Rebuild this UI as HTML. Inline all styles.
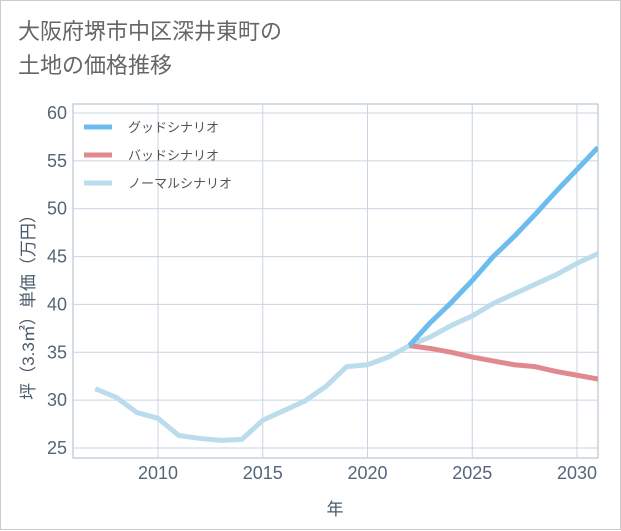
<!DOCTYPE html>
<html><head><meta charset="utf-8"><style>
body{margin:0;background:#fff;}
#wrap{position:relative;width:619px;height:528px;border:1px solid #ccc;background:#fff;font-family:"Liberation Sans","Noto Sans CJK JP",sans-serif;}
#title{position:absolute;left:17px;top:14px;font-size:22px;line-height:34px;color:#666;}
svg{position:absolute;left:0;top:0;}
</style></head><body>
<div id="wrap">
<div id="title">大阪府堺市中区深井東町の<br>土地の価格推移</div>
<svg id="chart" width="621" height="530"></svg>
</div>
<script>
const years=[2007,2008,2009,2010,2011,2012,2013,2014,2015,2016,2017,2018,2019,2020,2021,2022,2023,2024,2025,2026,2027,2028,2029,2030,2031];
const normalVals=[31.2,30.3,28.7,28.1,26.3,26.0,25.8,25.9,27.9,28.9,29.9,31.4,33.5,33.7,34.5,35.7,36.6,37.8,38.8,40.1,41.1,42.1,43.1,44.3,45.3];
const futureYears=[2022,2023,2024,2025,2026,2027,2028,2029,2030,2031];
const goodVals=[35.7,38.1,40.2,42.5,45.0,47.1,49.4,51.8,54.1,56.4];
const badVals=[35.7,35.4,35.0,34.5,34.1,33.7,33.5,33.0,32.6,32.2];
const yTicks=[25,30,35,40,45,50,55,60];
const xTicks=[2010,2015,2020,2025,2030];
const NS="http://www.w3.org/2000/svg";
const svg=document.getElementById('chart');
const L=72,R=597,T=103,B=457;
const xs=v=>157+(v-2010)*20.95;
const ys=v=>447-(v-25)*9.571;
function mk(tag,attrs){const e=document.createElementNS(NS,tag);for(const k in attrs)e.setAttribute(k,attrs[k]);svg.appendChild(e);return e;}
const frame=mk('rect',{x:L,y:T,width:R-L,height:B-T,fill:'none',stroke:'#aab8c8'});


yTicks.forEach(v=>{
 const g=mk('line',{x1:L,x2:R,y1:ys(v),y2:ys(v),stroke:'#c8d4e2'});
 
 
 const t=mk('text',{x:L-6,y:ys(v)+6,'text-anchor':'end','font-size':18,fill:'#55657a'});
 t.textContent=v;
 
 
});
xTicks.forEach(v=>{
 const g=mk('line',{x1:xs(v),x2:xs(v),y1:T,y2:B,stroke:'#c8d4e2'});
 
 
 const t=mk('text',{x:xs(v),y:B+21,'text-anchor':'middle','font-size':18,fill:'#55657a'});
 t.textContent=v;
 
 
});
const xt=mk('text',{x:334,y:514,'text-anchor':'middle','font-size':17,fill:'#4a5a6a'});
xt.textContent='年';


const yt=mk('text',{x:0,y:0,'text-anchor':'middle','font-size':17,fill:'#4a5a6a',transform:'translate(33,302) rotate(-90)'});
yt.textContent='坪（3.3㎡）単価（万円）';


const cp=mk('clipPath',{id:'cp'});
const cr=document.createElementNS(NS,'rect');cr.setAttribute('x',L);cr.setAttribute('y',T);cr.setAttribute('width',R-L);cr.setAttribute('height',B-T);cp.appendChild(cr);
function line(xv,yv,color,name){
 const p=mk('polyline',{points:xv.map((x,i)=>xs(x)+','+ys(yv[i])).join(' '),fill:'none',stroke:color,'stroke-width':5,'stroke-linejoin':'round','clip-path':'url(#cp)'});
 
 
}
line(years,normalVals,'#badcec','normal-scenario-line');
line(futureYears,badVals,'#e08a90','bad-scenario-line');
line(futureYears,goodVals,'#6cbcf0','good-scenario-line');
const leg=[['グッドシナリオ','#6cbcf0','legend-good'],['バッドシナリオ','#e08a90','legend-bad'],['ノーマルシナリオ','#badcec','legend-normal']];
leg.forEach((l,i)=>{
 const y=126+i*28;
 const s=mk('line',{x1:83,x2:111,y1:y,y2:y,stroke:l[1],'stroke-width':5});
 
 
 const t=mk('text',{x:127,y:y+5,'font-size':13,fill:'#555'});
 t.textContent=l[0];
 
 
});
</script>
</body></html>
